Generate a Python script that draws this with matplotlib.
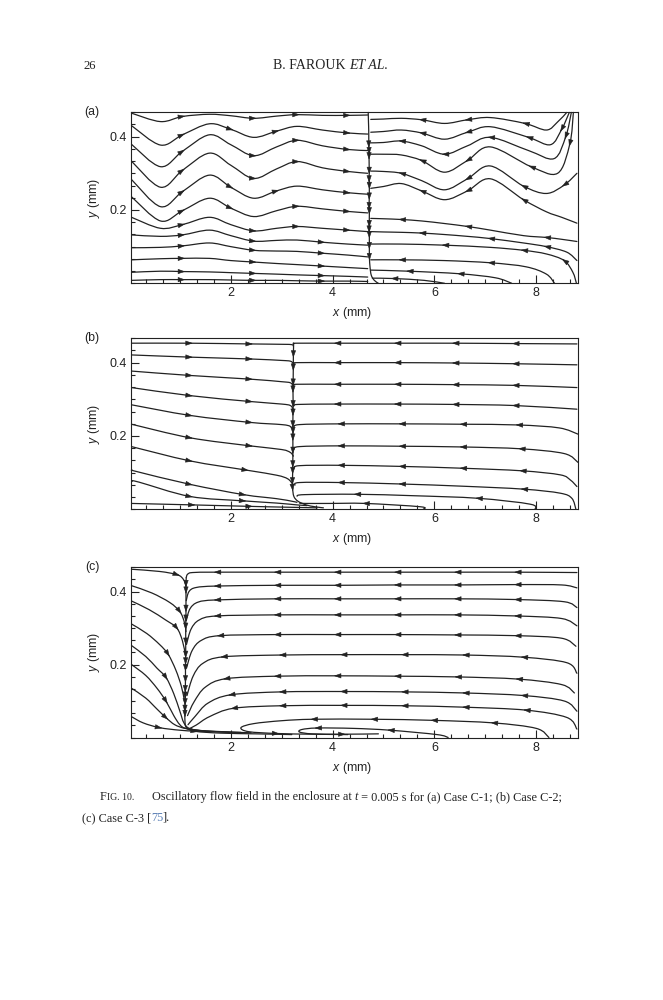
import numpy as np
import matplotlib
matplotlib.use("Agg")
import matplotlib.pyplot as plt
from matplotlib.path import Path
from matplotlib.patches import PathPatch, FancyArrowPatch
from matplotlib.ticker import MultipleLocator

plt.rcParams['font.family'] = ['Liberation Sans', 'DejaVu Sans']
plt.rcParams['mathtext.fontset'] = 'custom'
plt.rcParams['mathtext.rm'] = 'Liberation Sans'
plt.rcParams['mathtext.it'] = 'Liberation Sans:italic'

W, H = 663, 1000
INK = '#222222'

# ---------------- panel (a): Case C-1 ----------------
a_left_x = [0.05, 0.62, 1.05, 1.58, 2.0, 2.45, 2.9, 3.3, 3.8, 4.3, 4.69]
a_left_y = [
    [0.464, 0.441, 0.455, 0.461, 0.457, 0.450, 0.456, 0.460, 0.458, 0.458, 0.459],
    [0.430, 0.377, 0.405, 0.435, 0.420, 0.398, 0.415, 0.428, 0.418, 0.410, 0.407],
    [0.379, 0.318, 0.360, 0.405, 0.378, 0.348, 0.372, 0.390, 0.375, 0.365, 0.362],
    [0.333, 0.262, 0.308, 0.355, 0.322, 0.286, 0.312, 0.332, 0.315, 0.305, 0.300],
    [0.283, 0.209, 0.250, 0.295, 0.262, 0.232, 0.252, 0.265, 0.255, 0.247, 0.243],
    [0.236, 0.170, 0.198, 0.232, 0.205, 0.182, 0.198, 0.210, 0.203, 0.196, 0.192],
    [0.180, 0.150, 0.160, 0.180, 0.160, 0.143, 0.150, 0.155, 0.150, 0.145, 0.141],
    [0.132, 0.128, 0.132, 0.145, 0.130, 0.115, 0.117, 0.118, 0.112, 0.107, 0.104],
    [0.097, 0.098, 0.102, 0.110, 0.100, 0.090, 0.088, 0.087, 0.082, 0.077, 0.072],
    [0.064, 0.067, 0.068, 0.068, 0.062, 0.058, 0.054, 0.051, 0.047, 0.043, 0.040],
    [0.030, 0.033, 0.032, 0.031, 0.029, 0.027, 0.025, 0.023, 0.021, 0.019, 0.017],
    [0.008, 0.010, 0.010, 0.010, 0.009, 0.008, 0.008, 0.007, 0.006, 0.006, 0.005],
]
a_left_arrows = [[2, 5, 7, 9], [2, 4, 6, 9], [2, 5, 7, 9], [2, 5, 7, 9], [2, 4, 6, 9],
                 [2, 4, 7, 9], [2, 5, 7, 9], [2, 5, 8], [2, 5, 8], [2, 5, 8],
                 [2, 5, 8], [2, 5, 8]]

a_right = [
    [(8.60, 0.466), (8.42, 0.440), (8.20, 0.418), (7.78, 0.436), (7.10, 0.452), (6.65, 0.446),
     (6.20, 0.436), (5.75, 0.446), (5.35, 0.450), (5.00, 0.448), (4.75, 0.447)],
    [(8.65, 0.466), (8.50, 0.420), (8.28, 0.378), (7.85, 0.398), (7.10, 0.427), (6.65, 0.412),
     (6.20, 0.393), (5.75, 0.410), (5.35, 0.418), (5.00, 0.414), (4.75, 0.412)],
    [(8.69, 0.466), (8.58, 0.400), (8.35, 0.340), (7.85, 0.362), (7.10, 0.398), (6.65, 0.375),
     (6.20, 0.352), (5.75, 0.375), (5.35, 0.388), (5.00, 0.384), (4.75, 0.383)],
    [(8.73, 0.466), (8.66, 0.380), (8.42, 0.300), (7.90, 0.318), (7.10, 0.372), (6.65, 0.335),
     (6.20, 0.303), (5.75, 0.335), (5.35, 0.350), (5.00, 0.352), (4.75, 0.352)],
    [(8.80, 0.300), (8.55, 0.268), (8.20, 0.245), (7.75, 0.265), (7.10, 0.320), (6.65, 0.285),
     (6.20, 0.255), (5.75, 0.280), (5.35, 0.300), (5.00, 0.305), (4.75, 0.306)],
    [(8.80, 0.164), (8.50, 0.180), (8.20, 0.195), (7.75, 0.228), (7.10, 0.285), (6.65, 0.252),
     (6.20, 0.228), (5.75, 0.252), (5.35, 0.272), (5.00, 0.264), (4.75, 0.259)],
    [(8.80, 0.114), (8.50, 0.120), (8.20, 0.125), (7.75, 0.130), (7.10, 0.145), (6.65, 0.155),
     (6.20, 0.163), (5.75, 0.170), (5.35, 0.174), (5.00, 0.176), (4.75, 0.177)],
    [(8.80, 0.062), (8.60, 0.085), (8.20, 0.100), (7.75, 0.110), (7.10, 0.122), (6.65, 0.128),
     (6.20, 0.133), (5.75, 0.137), (5.35, 0.139), (5.00, 0.140), (4.75, 0.141)],
    [(8.79, 0.000), (8.72, 0.030), (8.55, 0.062), (8.20, 0.080), (7.75, 0.090), (7.10, 0.098),
     (6.20, 0.104), (5.35, 0.107), (4.75, 0.107)],
    [(8.36, 0.000), (8.20, 0.025), (7.80, 0.045), (7.10, 0.056), (6.20, 0.062), (5.35, 0.064),
     (4.75, 0.064)],
    [(7.52, 0.000), (7.20, 0.015), (6.50, 0.026), (5.50, 0.033), (4.75, 0.036)],
    [(6.20, 0.000), (5.80, 0.008), (5.20, 0.013), (4.78, 0.014)],
]
a_right_arrows = [[7, 5, 3], [7, 5, 3, 1], [8, 6, 4, 1], [7, 5, 3, 1], [8, 5, 3, 1], [7, 5, 3],
                  [8, 5, 2], [7, 4, 2], [6, 4, 2], [5, 3], [3, 2], [2]]

a_split_y = [0.466, 0.440, 0.415, 0.377, 0.359, 0.345, 0.305, 0.282, 0.264, 0.235,
             0.209, 0.195, 0.160, 0.145, 0.130, 0.100, 0.070]
a_split_x = [4.700, 4.705, 4.710, 4.712, 4.718, 4.716, 4.720, 4.718, 4.722, 4.720,
             4.718, 4.722, 4.720, 4.718, 4.722, 4.722, 4.724]
a_split_tail = [(4.735, 0.045), (4.76, 0.022), (4.82, 0.008), (4.90, 0.0)]

# ---------------- panel (b): Case C-2 ----------------
b_left = [
    [(0.05, 0.453), (1.20, 0.453), (2.38, 0.451), (3.00, 0.450), (3.20, 0.449), (3.23, 0.445)],
    [(0.05, 0.421), (1.20, 0.415), (2.38, 0.410), (3.00, 0.406), (3.17, 0.404), (3.23, 0.398)],
    [(0.05, 0.377), (1.20, 0.365), (2.38, 0.355), (3.00, 0.348), (3.17, 0.345), (3.23, 0.336)],
    [(0.05, 0.332), (1.20, 0.310), (2.38, 0.294), (3.00, 0.287), (3.17, 0.283), (3.23, 0.272)],
    [(0.05, 0.285), (1.20, 0.256), (2.38, 0.237), (3.00, 0.231), (3.17, 0.226), (3.23, 0.214)],
    [(0.05, 0.232), (1.20, 0.195), (2.38, 0.173), (3.00, 0.163), (3.17, 0.155), (3.23, 0.145)],
    [(0.05, 0.171), (1.20, 0.132), (2.30, 0.107), (2.90, 0.093), (3.12, 0.083), (3.22, 0.068)],
    [(0.06, 0.107), (0.15, 0.103), (1.20, 0.068), (2.25, 0.040), (2.90, 0.029), (3.20, 0.022),
     (3.30, 0.019)],
    [(0.06, 0.077), (0.20, 0.074), (1.20, 0.035), (2.25, 0.023), (2.90, 0.017), (3.30, 0.012),
     (3.50, 0.010)],
    [(0.05, 0.016), (1.25, 0.012), (2.38, 0.008), (3.00, 0.006), (3.70, 0.004)],
]
b_left_arrows = [[1, 2], [1, 2], [1, 2], [1, 2], [1, 2], [1, 2], [1, 2], [2, 3], [2, 3], [1, 2]]

b_right = [
    [(8.80, 0.451), (7.58, 0.452), (6.40, 0.453), (5.26, 0.453), (4.08, 0.453), (3.30, 0.453),
     (3.24, 0.452)],
    [(8.80, 0.394), (7.58, 0.397), (6.40, 0.399), (5.26, 0.400), (4.08, 0.400), (3.30, 0.400),
     (3.24, 0.397)],
    [(8.80, 0.332), (7.58, 0.338), (6.40, 0.340), (5.26, 0.341), (4.08, 0.341), (3.30, 0.341),
     (3.24, 0.338)],
    [(8.80, 0.273), (7.58, 0.283), (6.40, 0.286), (5.26, 0.287), (4.08, 0.287), (3.32, 0.286),
     (3.24, 0.282)],
    [(8.82, 0.205), (8.45, 0.222), (7.65, 0.230), (6.55, 0.232), (5.35, 0.233), (4.15, 0.233),
     (3.35, 0.231), (3.24, 0.224)],
    [(8.82, 0.128), (8.55, 0.152), (7.70, 0.165), (6.55, 0.170), (5.35, 0.172), (4.15, 0.173),
     (3.35, 0.171), (3.24, 0.164)],
    [(8.80, 0.062), (8.67, 0.080), (8.47, 0.094), (7.72, 0.105), (6.55, 0.112), (5.35, 0.117),
     (4.15, 0.120), (3.35, 0.119), (3.24, 0.112)],
    [(8.78, 0.000), (8.70, 0.030), (8.47, 0.044), (7.75, 0.055), (6.55, 0.063), (5.35, 0.069),
     (4.15, 0.073), (3.35, 0.073), (3.26, 0.066)],
    [(7.98, 0.000), (7.88, 0.014), (6.86, 0.030), (5.60, 0.037), (4.47, 0.041), (3.45, 0.040),
     (3.30, 0.036)],
    [(5.78, 0.000), (5.72, 0.007), (4.64, 0.016), (3.95, 0.016), (3.45, 0.016), (3.35, 0.017)],
]
b_right_arrows = [[1, 2, 3, 4], [1, 2, 3, 4], [1, 2, 3, 4], [1, 2, 3, 4], [2, 3, 4, 5],
                  [2, 3, 4, 5], [3, 4, 5, 6], [3, 5, 6], [2, 4], [2]]

b_split_y = [0.453, 0.421, 0.385, 0.344, 0.325, 0.285, 0.262, 0.230, 0.212, 0.194,
             0.158, 0.121, 0.103, 0.075, 0.057]
b_split_x = [3.235, 3.230, 3.228, 3.225, 3.222, 3.225, 3.222, 3.220, 3.222, 3.220,
             3.220, 3.218, 3.216, 3.212, 3.214]
b_split_tail = [(3.24, 0.035), (3.32, 0.022), (3.48, 0.012), (3.65, 0.007), (3.82, 0.004)]

# ---------------- panel (c): Case C-3 ----------------
c_left = [
    [(0.05, 0.461), (0.60, 0.455), (0.95, 0.446), (1.07, 0.433), (1.12, 0.415)],
    [(0.05, 0.416), (0.45, 0.396), (0.80, 0.370), (1.00, 0.345), (1.09, 0.315), (1.12, 0.290)],
    [(0.05, 0.374), (0.40, 0.350), (0.72, 0.322), (0.94, 0.300), (1.05, 0.265), (1.11, 0.225)],
    [(0.05, 0.311), (0.35, 0.285), (0.60, 0.255), (0.77, 0.228), (0.92, 0.185), (1.03, 0.140),
     (1.09, 0.100)],
    [(0.05, 0.252), (0.33, 0.222), (0.55, 0.190), (0.73, 0.164), (0.88, 0.120), (1.00, 0.072),
     (1.08, 0.040), (1.20, 0.024), (1.50, 0.017)],
    [(0.05, 0.200), (0.33, 0.170), (0.55, 0.135), (0.73, 0.099), (0.88, 0.060), (1.00, 0.035),
     (1.12, 0.025), (1.50, 0.018), (2.00, 0.014)],
    [(0.05, 0.135), (0.33, 0.108), (0.55, 0.078), (0.73, 0.054), (0.90, 0.035), (1.10, 0.025),
     (1.40, 0.019), (2.20, 0.014)],
    [(0.05, 0.057), (0.28, 0.040), (0.60, 0.027), (1.00, 0.020), (1.40, 0.017), (2.40, 0.013)],
]
c_left_arrows = [[2], [3], [3], [3], [3], [3], [3], [2]]

c_right = [
    [(8.80, 0.452), (7.62, 0.453), (6.44, 0.453), (5.26, 0.453), (4.08, 0.453), (2.90, 0.453),
     (1.72, 0.453), (1.25, 0.452), (1.15, 0.447), (1.125, 0.438)],
    [(8.80, 0.410), (8.50, 0.418), (7.62, 0.419), (6.44, 0.418), (5.26, 0.418), (4.08, 0.417),
     (2.90, 0.417), (1.72, 0.415), (1.32, 0.411), (1.18, 0.400), (1.125, 0.375)],
    [(8.80, 0.356), (8.55, 0.372), (7.62, 0.378), (6.44, 0.380), (5.26, 0.380), (4.08, 0.380),
     (2.90, 0.380), (1.72, 0.377), (1.36, 0.371), (1.20, 0.353), (1.125, 0.320)],
    [(8.80, 0.306), (8.50, 0.326), (7.62, 0.333), (6.44, 0.336), (5.26, 0.336), (4.08, 0.336),
     (2.90, 0.336), (1.72, 0.333), (1.38, 0.322), (1.22, 0.297), (1.13, 0.255)],
    [(8.78, 0.250), (8.50, 0.272), (7.62, 0.279), (6.44, 0.281), (5.26, 0.282), (4.08, 0.282),
     (2.90, 0.282), (1.78, 0.279), (1.42, 0.266), (1.24, 0.238), (1.13, 0.190)],
    [(8.80, 0.176), (8.60, 0.205), (7.75, 0.220), (6.60, 0.226), (5.40, 0.227), (4.20, 0.227),
     (3.00, 0.226), (1.85, 0.221), (1.45, 0.203), (1.26, 0.168), (1.14, 0.115)],
    [(8.75, 0.122), (8.50, 0.145), (7.65, 0.160), (6.45, 0.166), (5.26, 0.168), (4.08, 0.169),
     (2.90, 0.168), (1.90, 0.161), (1.50, 0.138), (1.28, 0.098), (1.15, 0.060)],
    [(8.80, 0.072), (8.55, 0.100), (7.75, 0.115), (6.60, 0.122), (5.40, 0.125), (4.20, 0.126),
     (3.00, 0.125), (2.00, 0.117), (1.55, 0.094), (1.30, 0.058), (1.16, 0.035)],
    [(8.80, 0.023), (8.60, 0.055), (7.80, 0.075), (6.60, 0.083), (5.40, 0.087), (4.20, 0.088),
     (3.00, 0.087), (2.05, 0.080), (1.58, 0.057), (1.32, 0.034), (1.18, 0.024)],
    [(8.25, 0.000), (8.00, 0.025), (7.16, 0.040), (5.98, 0.047), (4.80, 0.050), (3.62, 0.050),
     (3.00, 0.046), (2.45, 0.038), (2.20, 0.027), (2.35, 0.016), (2.90, 0.011), (3.60, 0.009),
     (4.30, 0.008)],
    [(6.27, 0.000), (6.05, 0.008), (5.13, 0.020), (4.40, 0.025), (3.70, 0.026), (3.40, 0.022),
     (3.35, 0.015), (3.60, 0.010), (4.20, 0.009), (4.90, 0.010)],
]
c_right_arrows = [[1, 2, 3, 4, 5, 6]] + [[2, 3, 4, 5, 6, 7]] * 8 + [[2, 3, 4, 5, 10], [2, 4, 8]]

c_split_y = [0.438, 0.419, 0.401, 0.351, 0.324, 0.302, 0.261, 0.225, 0.207, 0.189,
             0.158, 0.131, 0.113, 0.095, 0.077, 0.063]
c_split_x = [1.125, 1.120, 1.120, 1.120, 1.118, 1.115, 1.115, 1.114, 1.112, 1.110,
             1.110, 1.106, 1.105, 1.102, 1.100, 1.100]
c_split_tail = [(1.10, 0.045), (1.13, 0.027), (1.30, 0.017), (1.80, 0.012), (2.50, 0.010),
                (3.20, 0.008)]

# axes frames in page pixels: (left, top, right, bottom)
frames = {'a': (131, 111.7, 577.7, 283.3), 'b': (131, 337.7, 577.7, 509.3),
          'c': (131, 566.7, 577.7, 737.5)}
XLIM = (0.04, 8.815)
YLIM = (0.0, 0.468)


def bezier_path(pts):
    p = np.asarray(pts, float)
    n = len(p)
    verts, codes = [p[0]], [Path.MOVETO]
    for i in range(n - 1):
        p0 = p[i - 1] if i > 0 else p[i]
        p3 = p[i + 2] if i + 2 < n else p[i + 1]
        verts += [p[i] + (p[i + 1] - p0) / 6.0, p[i + 1] - (p3 - p[i]) / 6.0, p[i + 1]]
        codes += [Path.CURVE4] * 3
    return Path(verts, codes)


def streamline(ax, pts, arrows):
    ax.add_patch(PathPatch(bezier_path(pts), fill=False, lw=0.9, edgecolor=INK,
                           joinstyle='round', capstyle='round', clip_on=False))
    inv = ax.transData.inverted()
    for i in arrows:
        a = pts[max(i - 1, 0)]
        b = pts[min(i + 1, len(pts) - 1)]
        d = ax.transData.transform(b) - ax.transData.transform(a)
        u = d / np.hypot(*d)
        c = ax.transData.transform(pts[i])
        tail = inv.transform(c - 2.8 * u)
        tip = inv.transform(c + 2.8 * u)
        ax.add_patch(FancyArrowPatch(tail, tip, arrowstyle='-|>,head_length=0.75,head_width=0.26',
                                     mutation_scale=6, color=INK, lw=0.4,
                                     shrinkA=0, shrinkB=0, clip_on=False))


fig = plt.figure(figsize=(W / 100, H / 100), dpi=100)
fig.patch.set_facecolor('white')

axes = {}
for key, (l, t, r, b) in frames.items():
    ax = fig.add_axes([l / W, 1 - b / H, (r - l) / W, (b - t) / H])
    ax.set_xlim(*XLIM)
    ax.set_ylim(*YLIM)
    ax.set_xticks([2, 4, 6, 8])
    ax.set_xticklabels(['2', '4', '6', '8'])
    ax.set_yticks([0.2, 0.4])
    ax.set_yticklabels(['0.2', '0.4'])
    ax.xaxis.set_minor_locator(MultipleLocator(1 / 3))
    ax.yaxis.set_minor_locator(MultipleLocator(0.2 / 6))
    ax.tick_params(which='both', direction='in', top=False, right=False,
                   labelsize=9, pad=3, colors=INK, width=0.8)
    ax.tick_params(which='major', length=5.5)
    ax.tick_params(which='minor', length=3.2)
    for s in ax.spines.values():
        s.set_linewidth(0.8)
        s.set_color(INK)
    axes[key] = ax
    fig.text(92 / W, 1 - t / H, '(%s)' % key, ha='center', va='center', fontsize=8.8, color=INK)
    fig.text(94 / W, 1 - (t + b) / 2 / H, r'$y$ (mm)', rotation=90, ha='center', va='center',
             fontsize=8.8, color=INK)
    fig.text(352 / W, 1 - (b + 30) / H, r'$x$ (mm)', ha='center', va='center',
             fontsize=8.8, color=INK)

# panel (a)
ax = axes['a']
for row, arr in zip(a_left_y, a_left_arrows):
    streamline(ax, list(zip(a_left_x, row)), arr)
for pts, arr in zip(a_right, a_right_arrows):
    streamline(ax, pts, arr)
streamline(ax, list(zip(a_split_x, a_split_y)) + a_split_tail, list(range(3, len(a_split_y))))

# panel (b)
ax = axes['b']
for pts, arr in zip(b_left, b_left_arrows):
    streamline(ax, pts, arr)
for pts, arr in zip(b_right, b_right_arrows):
    streamline(ax, pts, arr)
streamline(ax, list(zip(b_split_x, b_split_y)) + b_split_tail, list(range(1, len(b_split_y))))

# panel (c)
ax = axes['c']
for pts, arr in zip(c_left, c_left_arrows):
    streamline(ax, pts, arr)
for pts, arr in zip(c_right, c_right_arrows):
    streamline(ax, pts, arr)
streamline(ax, list(zip(c_split_x, c_split_y)) + c_split_tail,
           list(range(1, len(c_split_y))) + [len(c_split_y) + 2])

# page header and caption
renderer = fig.canvas.get_renderer()


def put_runs(x_px, y_px, runs):
    x = x_px
    for s, kw in runs:
        t = fig.text(x / W, 1 - y_px / H, s, ha='left', va='baseline', color=kw.pop('color', INK),
                     family='Liberation Serif', **kw)
        x += t.get_window_extent(renderer=renderer).width
    return x


put_runs(83, 69, [('26', dict(fontsize=9.2))])
put_runs(273, 69, [('B. FAROUK ', dict(fontsize=10)), ('ET AL.', dict(fontsize=10, style='italic'))])

put_runs(100, 800, [('F', dict(fontsize=8.8)), ('IG. 10.', dict(fontsize=7.0))])
put_runs(151.5, 800, [('Oscillatory flow field in the enclosure at ', dict(fontsize=8.8)),
                      ('t', dict(fontsize=8.8, style='italic')),
                      (' = 0.005 s for (a) Case C-1; (b) Case C-2;', dict(fontsize=8.8))])
put_runs(81.5, 821, [('(c) Case C-3 [', dict(fontsize=8.8)),
                     ('75', dict(fontsize=8.8, color='#5a7fb5')),
                     (('].'), dict(fontsize=8.8))])

fig.savefig('out.png', dpi=100, facecolor='white')
